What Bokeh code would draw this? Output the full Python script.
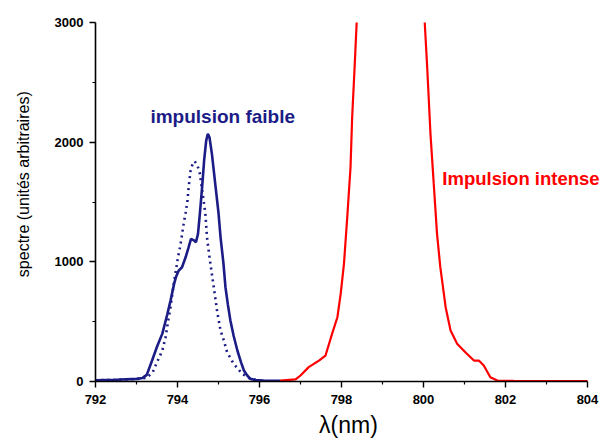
import math
from bokeh.plotting import figure
from bokeh.models import Range1d, FixedTicker, Label
from bokeh.embed import file_html
from bokeh.resources import INLINE

# ---- data ----
x_ticks = [792, 794, 796, 798, 800, 802, 804]
x_minor = [793, 795, 797, 799, 801, 803]
y_ticks = [0, 1000, 2000, 3000]
y_minor = [500, 1500, 2500]

blue_x = [792.0, 792.5, 793.0, 793.15, 793.25, 793.38, 793.5, 793.63, 793.75, 793.83,
          793.92, 793.97, 794.03, 794.11, 794.2, 794.27, 794.33, 794.4, 794.45, 794.5,
          794.55, 794.6, 794.65, 794.7, 794.74, 794.78, 794.84, 794.93, 795.0, 795.05,
          795.12, 795.17, 795.23, 795.29, 795.37, 795.46, 795.55, 795.62, 795.7, 795.78,
          795.9, 796.1, 796.3, 796.5]
blue_y = [10, 15, 22, 30, 55, 175, 290, 400, 560, 676,
          820, 880, 927, 955, 1040, 1120, 1192, 1180, 1164, 1234,
          1420, 1623, 1850, 2013, 2069, 2040, 1900, 1623, 1410, 1205,
          990, 788, 640, 510, 380, 259, 160, 92, 50, 22,
          12, 8, 6, 5]

dot_x = [792.0, 792.5, 793.0, 793.25, 793.4, 793.5, 793.63, 793.71, 793.76, 793.83,
         793.9, 793.98, 794.02, 794.07, 794.15, 794.2, 794.24, 794.26, 794.29, 794.32,
         794.37, 794.42, 794.48, 794.54, 794.62, 794.68, 794.72, 794.78, 794.85, 794.93,
         794.97, 795.05, 795.13, 795.21, 795.37, 795.58, 795.78, 796.0]
dot_y = [10, 15, 20, 30, 80, 161, 259, 370, 482, 621,
         800, 969, 1053, 1136, 1317, 1414, 1498, 1581, 1679, 1763,
         1820, 1840, 1810, 1749, 1554, 1401, 1205, 1038, 871, 677,
         579, 426, 343, 245, 148, 64, 22, 8]

red_x = [796.5, 796.88, 797.0, 797.2, 797.45, 797.61, 797.77, 797.9, 797.98, 798.06,
         798.14, 798.22, 798.26, 798.32, 798.37, 798.45, 798.6, 798.9, 799.2, 799.5,
         799.8, 799.95, 800.03, 800.09, 800.17, 800.25, 800.33, 800.41, 800.54, 800.66,
         800.82, 801.02, 801.23, 801.35, 801.47, 801.63, 801.8, 802.2, 802.6, 803.0,
         803.5, 804.0]
red_y = [8, 17, 50, 120, 175, 217, 398, 537, 733, 983,
         1372, 1790, 2208, 2626, 3000, 3600, 5500, 9000, 11000, 9000,
         5500, 3600, 3000, 2626, 2069, 1651, 1234, 955, 621, 426,
         315, 245, 175, 175, 134, 36, 8, 5, 4, 4,
         3, 3]

BLUE = "#1c1c86"
RED = "#ff0000"
FONT = "Liberation Sans"
NB = "\u00a0"

# frame runs to the right edge of the page; the axis itself stops at 804
p = figure(width=601, height=442, output_backend="svg", toolbar_location=None,
           x_range=Range1d(792, 804 + 14 / 41), y_range=Range1d(0, 3000),
           min_border_left=95, min_border_right=0, min_border_top=22, min_border_bottom=61)
p.outline_line_color = None
p.grid.visible = False
p.background_fill_color = "white"
p.border_fill_color = "white"

p.xaxis.ticker = FixedTicker(ticks=x_ticks, minor_ticks=x_minor)
p.yaxis.ticker = FixedTicker(ticks=y_ticks, minor_ticks=y_minor)
p.xaxis.bounds = (x_ticks[0], x_ticks[-1])
for ax in (p.xaxis, p.yaxis):
    ax.axis_line_width = 1.6
    ax.axis_line_color = "black"
    ax.major_tick_in = 0
    ax.major_tick_out = 6
    ax.minor_tick_in = 0
    ax.minor_tick_out = 3
    ax.major_tick_line_width = 1.4
    ax.minor_tick_line_width = 1.2
    ax.major_label_text_font = FONT
    ax.major_label_text_font_size = "13px"
    ax.major_label_text_font_style = "bold"
    ax.major_label_text_color = "black"
    ax.axis_label_text_font = FONT
    ax.axis_label_text_font_style = "normal"
    ax.axis_label_text_color = "black"
p.xaxis.major_label_standoff = 7
p.yaxis.major_label_standoff = 6

p.xaxis.axis_label = "\u03bb(nm)"
p.xaxis.axis_label_text_font_size = "23px"
p.xaxis.axis_label_standoff = 5
p.yaxis.axis_label = NB * 8 + "spectre (unit\u00e9s arbitraires)"
p.yaxis.axis_label_text_font_size = "16px"
p.yaxis.axis_label_standoff = 20

p.line(blue_x, blue_y, line_color=BLUE, line_width=2.6)
p.line(dot_x, dot_y, line_color=BLUE, line_width=2.6, line_dash="2 4")
p.line(red_x, red_y, line_color=RED, line_width=2.2)

p.add_layout(Label(x=793.34, y=2214, text="impulsion faible", text_color=BLUE,
                   text_font=FONT, text_font_size="19px", text_font_style="bold",
                   text_baseline="alphabetic"))
p.add_layout(Label(x=800.46, y=1698, text="Impulsion intense", text_color=RED,
                   text_font=FONT, text_font_size="18.5px", text_font_style="bold",
                   text_baseline="alphabetic"))

open("out.html", "w").write(file_html(p, INLINE))
